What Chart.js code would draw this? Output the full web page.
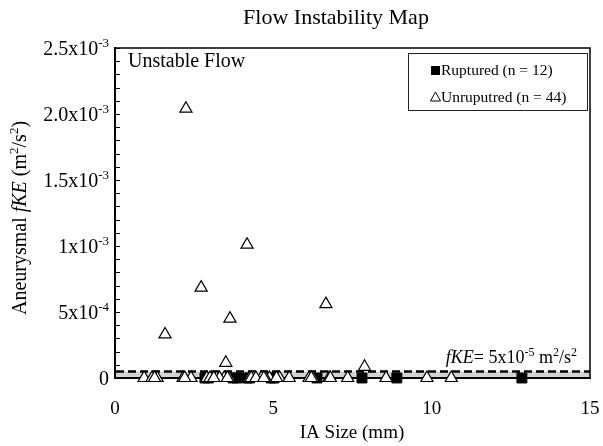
<!DOCTYPE html>
<html>
<head>
<meta charset="utf-8">
<script src="https://cdn.jsdelivr.net/npm/chart.js@4/dist/chart.umd.min.js"></script>
<style>
  html, body { margin: 0; padding: 0; background: #fff; }
</style>
</head>
<body>
<canvas id="chart" width="603" height="446"></canvas>
<script>
// 流れ不安定性マップ
const rupturedSize = [2.84, 2.95, 3.73, 3.85, 4.17, 4.25, 4.93, 5.02, 6.38, 7.80, 8.90, 12.85];
const rupturedFKE  = [0, 0, 0, 0, 0, 0, 0, 0, 0, 0, 0, 0];

const unrupturedSize = [
  2.24, 4.17, 2.72, 3.63, 1.58, 3.50, 6.66, 7.88,
  0.92, 1.17, 1.33, 2.15, 2.40, 2.90, 3.05, 3.20, 3.45, 3.60, 4.25, 4.38,
  4.62, 4.88, 5.20, 5.50, 6.13, 6.25, 6.76, 7.35, 8.56, 9.85, 10.62,
  1.25, 2.20, 3.00, 3.30, 3.55, 4.30, 4.45, 4.75, 5.10, 6.20, 6.80, 3.12, 4.70
];
const unrupturedFKE = [
  2.04e-3, 1.01e-3, 0.685e-3, 0.45e-3, 0.33e-3, 0.115e-3, 0.56e-3, 0.085e-3,
  0, 0, 0, 0, 0, 0, 0, 0, 0, 0, 0, 0,
  0, 0, 0, 0, 0, 0, 0, 0, 0, 0, 0,
  0, 0, 0, 0, 0, 0, 0, 0, 0, 0, 0, 0, 0
];

const sizeTicks = [0, 5, 10, 15];
const fkeTicks = [0, 5e-4, 1e-3, 1.5e-3, 2e-3, 2.5e-3];
const fkeTickBase = ['0', '5x10', '1x10', '1.5x10', '2.0x10', '2.5x10'];
const fkeTickExp = ['', '-4', '-3', '-3', '-3', '-3'];
const fkeMinorStep = 1e-4;
const fkeThreshold = 5e-5;

const SERIF = '"Liberation Serif", "DejaVu Serif", serif';

function toPoints(xs, ys) {
  return xs.map((x, i) => ({ x: x, y: ys[i] }));
}

// 上付き・斜体を含むテキスト
function richText(ctx, parts, x, y, size, align) {
  const supSize = Math.round(size * 0.64);
  const fontOf = p => `${p.italic ? 'italic ' : ''}${p.sup ? supSize : size}px ${SERIF}`;
  let total = 0;
  parts.forEach(p => { ctx.font = fontOf(p); total += ctx.measureText(p.t).width; });
  let cx = align === 'right' ? x - total : align === 'center' ? x - total / 2 : x;
  ctx.textAlign = 'left';
  ctx.textBaseline = 'alphabetic';
  parts.forEach(p => {
    ctx.font = fontOf(p);
    ctx.fillText(p.t, cx, p.sup ? y - size * 0.38 : y);
    cx += ctx.measureText(p.t).width;
  });
}

const decorPlugin = {
  id: 'decor',
  beforeDatasetsDraw(chart) {
    const { ctx, chartArea: a, scales: { y } } = chart;
    const yt = y.getPixelForValue(fkeThreshold);
    const y0 = y.getPixelForValue(0);
    ctx.save();
    ctx.fillStyle = '#d2d2d2';
    ctx.fillRect(a.left + 1, yt, a.right - a.left - 1, y0 - yt - 1);
    ctx.strokeStyle = '#000';
    ctx.lineWidth = 2.5;
    ctx.setLineDash([8, 4]);
    ctx.beginPath();
    ctx.moveTo(a.left + 1, yt);
    ctx.lineTo(a.right, yt);
    ctx.stroke();
    ctx.restore();
  },
  afterDraw(chart) {
    const { ctx, chartArea: a, scales: { y } } = chart;
    ctx.save();
    ctx.fillStyle = '#000';
    ctx.strokeStyle = '#000';

    // 枠（上・右）
    ctx.lineWidth = 1.5;
    ctx.beginPath();
    ctx.moveTo(a.left, a.top);
    ctx.lineTo(a.right, a.top);
    ctx.lineTo(a.right, a.bottom);
    ctx.stroke();

    // 内向きの目盛り
    ctx.lineWidth = 1;
    for (let v = fkeMinorStep; v <= y.max + 1e-12; v += fkeMinorStep) {
      const py = Math.round(y.getPixelForValue(v)) + 0.5;
      ctx.beginPath();
      ctx.moveTo(a.left, py);
      ctx.lineTo(a.left + 5, py);
      ctx.stroke();
    }

    // Y軸ラベル
    fkeTicks.forEach((v, i) => {
      const py = y.getPixelForValue(v) + 7;
      const parts = [{ t: fkeTickBase[i] }];
      if (fkeTickExp[i]) parts.push({ t: fkeTickExp[i], sup: true });
      richText(ctx, parts, 109, py, 20, 'right');
    });

    // タイトル
    richText(ctx, [{ t: 'Flow Instability Map' }], 336, 24, 22, 'center');
    richText(ctx, [{ t: 'Unstable Flow' }], 128, 67, 20, 'left');
    richText(ctx, [{ t: 'IA Size (mm)' }], 352, 438, 19, 'center');

    // しきい値ラベル
    richText(ctx, [
      { t: 'fKE', italic: true }, { t: '= 5x10' }, { t: '-5', sup: true },
      { t: ' m' }, { t: '2', sup: true }, { t: '/s' }, { t: '2', sup: true }
    ], 577, 363, 18, 'right');

    // Y軸タイトル（回転）
    ctx.save();
    ctx.translate(26, 218);
    ctx.rotate(-Math.PI / 2);
    richText(ctx, [
      { t: 'Aneurysmal ' }, { t: 'fKE', italic: true }, { t: ' (m' },
      { t: '2', sup: true }, { t: '/s' }, { t: '2', sup: true }, { t: ')' }
    ], 0, 0, 20, 'center');
    ctx.restore();

    // 凡例
    ctx.lineWidth = 1;
    ctx.strokeStyle = '#222';
    ctx.strokeRect(408.5, 53.5, 179, 57);
    const rup = chart.data.datasets[1];
    const unr = chart.data.datasets[0];
    ctx.fillStyle = '#000';
    ctx.fillRect(431, 66, 9, 9);
    richText(ctx, [{ t: rup.label }], 441, 75, 15.5, 'left');
    ctx.fillStyle = '#fff';
    ctx.strokeStyle = '#000';
    ctx.beginPath();
    ctx.moveTo(435.5, 92);
    ctx.lineTo(440.5, 101);
    ctx.lineTo(430.5, 101);
    ctx.closePath();
    ctx.fill();
    ctx.stroke();
    ctx.fillStyle = '#000';
    richText(ctx, [{ t: unr.label }], 441, 102, 15.5, 'left');

    ctx.restore();
  }
};

new Chart(document.getElementById('chart'), {
  type: 'scatter',
  data: {
    datasets: [{
      label: 'Unruputred (n = 44)',
      data: toPoints(unrupturedSize, unrupturedFKE),
      pointStyle: 'triangle',
      pointRadius: 7,
      backgroundColor: '#fff',
      borderColor: '#000',
      borderWidth: 1.2,
      order: 0,
      clip: false
    }, {
      label: 'Ruptured (n = 12)',
      data: toPoints(rupturedSize, rupturedFKE),
      pointStyle: 'rect',
      pointRadius: 7,
      backgroundColor: '#000',
      borderColor: '#000',
      borderWidth: 1,
      order: 1,
      clip: false
    }]
  },
  options: {
    responsive: false,
    animation: false,
    events: [],
    layout: { padding: { top: 48, right: 13, left: 0, bottom: 0 } },
    plugins: {
      legend: { display: false },
      tooltip: { enabled: false }
    },
    scales: {
      x: {
        type: 'linear',
        min: sizeTicks[0],
        max: sizeTicks[sizeTicks.length - 1],
        afterBuildTicks: scale => { scale.ticks = sizeTicks.map(v => ({ value: v })); },
        afterFit: scale => {
          scale.height = 68;
          scale.paddingLeft = 0;
          scale.paddingRight = 0;
        },
        grid: { display: false },
        border: { display: true, color: '#000', width: 2 },
        ticks: {
          color: '#000',
          padding: 12,
          maxRotation: 0,
          font: { family: SERIF, size: 19 }
        }
      },
      y: {
        type: 'linear',
        min: fkeTicks[0],
        max: fkeTicks[fkeTicks.length - 1],
        afterFit: scale => { scale.width = 115; },
        grid: { display: false },
        border: { display: true, color: '#000', width: 2 },
        ticks: { display: false }
      }
    }
  },
  plugins: [decorPlugin]
});
</script>
</body>
</html>
